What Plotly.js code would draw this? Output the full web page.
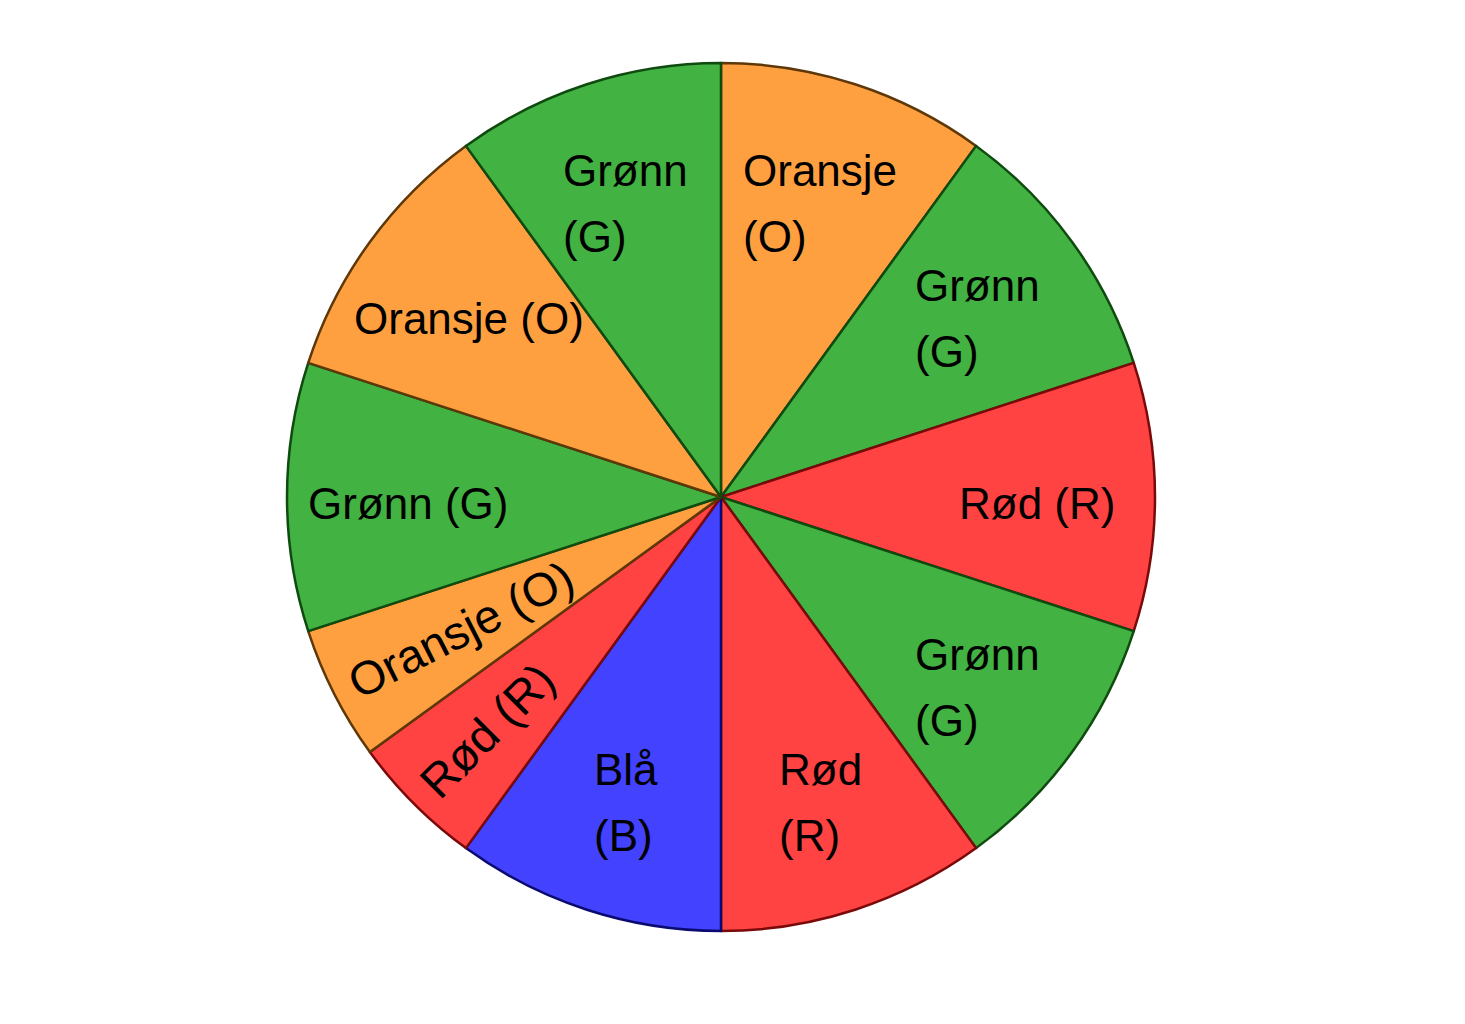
<!DOCTYPE html>
<html>
<head>
<meta charset="utf-8">
<script src="https://cdn.plot.ly/plotly-3.0.1.min.js"></script>
<style>
  html, body { margin: 0; padding: 0; background: #ffffff; }
  #chart { width: 1465px; height: 1024px; }
</style>
</head>
<body>
<div id="chart"></div>
<script>
// ---- data (clockwise from 12 o'clock) ----
const sliceKeys   = ["O", "G", "R", "G", "R", "B", "R", "O", "G", "O", "G"];
const sliceValues = [2, 2, 2, 2, 2, 2, 1, 1, 2, 2, 2];
const sliceLabels = [
  "Oransje<br>(O)", "Grønn<br>(G)", "Rød (R)", "Grønn<br>(G)", "Rød<br>(R)",
  "Blå<br>(B)", "Rød (R)", "Oransje (O)", "Grønn (G)", "Oransje (O)", "Grønn<br>(G)"
];
const fillColors = { O: "#FFA040", G: "#42B242", R: "#FF4242", B: "#4242FF" };
const edgeColors = { O: "#5e3808", G: "#0f4a0f", R: "#7a0a0a", B: "#0a0a70" };

// ---- layout geometry ----
const W = 1465, H = 1024;
const margin = { l: 0, r: 23, t: 63, b: 93, pad: 0 };
const R = Math.min(W - margin.l - margin.r, H - margin.t - margin.b) / 2;
const FONT = "Liberation Sans, Arial, sans-serif";
const FS = 44;      // horizontal labels
const FS_RAD = 47;  // radial labels in narrow slices

const canvas = document.createElement("canvas");
const ctx = canvas.getContext("2d");
function textW(s, size) {
  ctx.font = size + "px 'Liberation Sans', Arial, sans-serif";
  return ctx.measureText(s).width;
}

const total = sliceValues.reduce((a, b) => a + b, 0);
const annotations = [];
let cum = 0;
sliceValues.forEach((v, i) => {
  const mid = (cum + v / 2) / total * 360;
  cum += v;
  const th = mid * Math.PI / 180;
  const label = sliceLabels[i];
  if (v < 2) {
    const w = textW(label, FS_RAD);
    const rc = R * 0.955 - w / 2;
    annotations.push({
      text: label, xref: "paper", yref: "paper", x: 0.5, y: 0.5,
      xshift: rc * Math.sin(th), yshift: rc * Math.cos(th),
      xanchor: "center", yanchor: "middle", showarrow: false,
      textangle: mid - 270, font: { family: FONT, size: FS_RAD, color: "#000000" }
    });
  } else {
    const rc = R * 0.725;
    const cx = rc * Math.sin(th), cy = rc * Math.cos(th) - 6;
    const lines = label.split("<br>");
    const bw = Math.max(...lines.map(s => textW(s, FS)));
    const lh = 66;
    lines.forEach((ln, k) => {
      const off = (lines.length - 1) / 2 * lh - k * lh;
      annotations.push({
        text: ln, xref: "paper", yref: "paper", x: 0.5, y: 0.5,
        xshift: cx - bw / 2, yshift: cy + off,
        xanchor: "left", yanchor: "middle", showarrow: false, align: "left",
        font: { family: FONT, size: FS, color: "#000000" }
      });
    });
  }
});

const trace = {
  type: "pie",
  values: sliceValues,
  sort: false,
  direction: "clockwise",
  rotation: 0,
  textinfo: "none",
  hoverinfo: "skip",
  showlegend: false,
  marker: {
    colors: sliceKeys.map(k => fillColors[k]),
    line: { color: sliceKeys.map(k => edgeColors[k]), width: 2.5 }
  }
};

const layout = {
  width: W, height: H,
  margin: margin,
  paper_bgcolor: "#ffffff",
  plot_bgcolor: "#ffffff",
  showlegend: false,
  annotations: annotations
};

Plotly.newPlot("chart", [trace], layout, { staticPlot: true, displayModeBar: false });
</script>
</body>
</html>
